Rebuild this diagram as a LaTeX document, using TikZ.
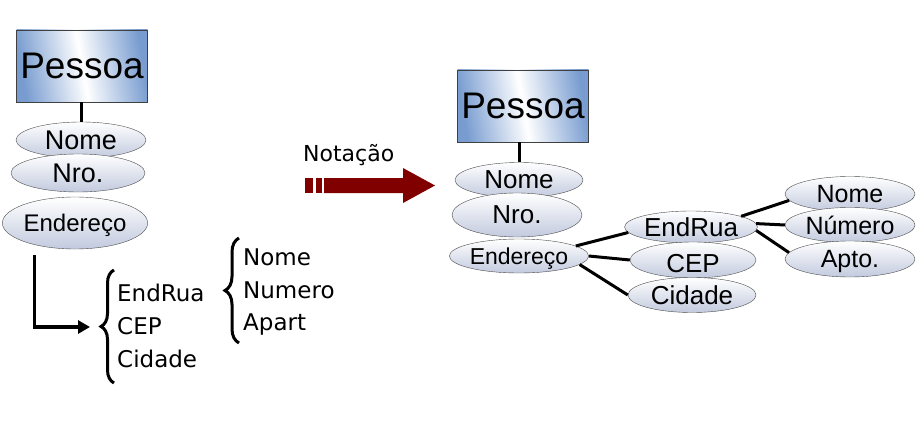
\documentclass[tikz,border=0pt]{standalone}
\usepackage{fontspec}
\setmainfont{Liberation Sans}
\newfontfamily\tahoma{DejaVu Sans}
\usepackage{tikz}
\usetikzlibrary{arrows.meta,shapes.geometric,decorations.pathreplacing}
\definecolor{boxblue}{RGB}{120,156,208}
\definecolor{ellgray}{RGB}{194,202,222}
\definecolor{notared}{RGB}{128,0,0}
\newcommand\fsz[1]{\fontsize{#1}{#1}\selectfont}

\begin{document}
\begin{tikzpicture}[x=1pt,y=-1pt]
    \useasboundingbox (0,0) rectangle (922,428);

    \begin{scope}[every node/.style={draw=black!75,thick,inner sep=0pt,minimum width=131pt,minimum height=72pt,
                  left color=boxblue,right color=boxblue,middle color=white,shading angle=100,font=\fsz{37}}]
        \node (P) at (82,66) {Pessoa};
        \node (P') at (523,106) {Pessoa};
    \end{scope}

    \begin{scope}[every node/.style={ellipse,draw=black!70,inner sep=0pt,top color=white,bottom color=ellgray,
                  text depth=0pt}]
        \node[minimum width=130pt,minimum height=36pt,font=\fsz{27}] (N) at (81,140) {Nome};
        \node[minimum width=134pt,minimum height=38pt,font=\fsz{27}] (R) at (78,173) {Nro.};
        \node[minimum width=130pt,minimum height=52pt,font=\fsz{24}] (E) at (75,223) {Endereço};

        \node[minimum width=128pt,minimum height=35pt,font=\fsz{26}] (N') at (519,180) {Nome};
        \node[minimum width=130pt,minimum height=44pt,font=\fsz{26}] (R') at (517,215) {Nro.};
        \node[minimum width=128pt,minimum height=34pt,font=\fsz{23}] (E') at (519,256) {Endereço};

        \node[minimum width=128pt,minimum height=32pt,font=\fsz{26}] (ER) at (691,227) {EndRua};
        \node[minimum width=126pt,minimum height=36pt,font=\fsz{26}] (CP) at (693,260) {\raisebox{-6pt}{CEP}};
        \node[minimum width=128pt,minimum height=35pt,font=\fsz{26}] (CD) at (692,295) {Cidade};

        \node[minimum width=130pt,minimum height=35pt,font=\fsz{25}] (NM) at (850,194) {Nome};
        \node[minimum width=130pt,minimum height=35pt,font=\fsz{25}] (NU) at (850,225) {Número};
        \node[minimum width=130pt,minimum height=36pt,font=\fsz{25}] (AP) at (850,259) {Apto.};
    \end{scope}

    \begin{scope}[every node/.style={anchor=west,inner sep=0pt,text depth=0pt,font=\tahoma\fsz{23}}]
        \node (EndRua) at (117,293) {EndRua};
        \node (CEP) at (117,326) {CEP};
        \node (Cidade) at (117,359) {Cidade};
        \node (Nome) at (243,257) {Nome};
        \node (Numero) at (243,290) {Numero};
        \node (Apart) at (243,322) {Apart};
    \end{scope}

    % chaves
    \draw[line width=3pt,decorate,decoration={brace,amplitude=13pt}] (114,383) -- (114,270);
    \draw[line width=3pt,decorate,decoration={brace,amplitude=14pt}] (239,343) -- (239,238);

    \coordinate (L0) at (34.5,255);
    \coordinate (L1) at (90,327);
    \draw[line width=3.5pt,-{Triangle[length=12pt,width=13pt]}] (L0) |- (L1);

    % seta da notacao
    \fill[notared] (305,178) rectangle (313,193);
    \fill[notared] (316,178) rectangle (322,193);
    \fill[notared] (324,178) -- (403,178) -- (403,168) -- (435,185.5) -- (403,203) -- (403,193) -- (324,193) -- cycle;
    \node[anchor=west,inner sep=0pt,font=\tahoma\fsz{22}] (Nt) at (303,155) {Notação};

    \draw[line width=3pt] (P.south -| N.north) -- (N.north);
    \draw[line width=3pt] (P'.south -| N'.north) -- (N'.north);

    \begin{scope}[every edge/.style={draw=black,line width=3pt}]
        \path (E'.10) edge (ER.185);
        \path (E'.0) edge (CP.west);
        \path (E'.-8) edge (CD.west);
        \path (ER.12) edge (NM.186);
        \path (ER.3) edge (NU.west);
        \path (ER.-3) edge (AP.174);
    \end{scope}
\end{tikzpicture}
\end{document}
